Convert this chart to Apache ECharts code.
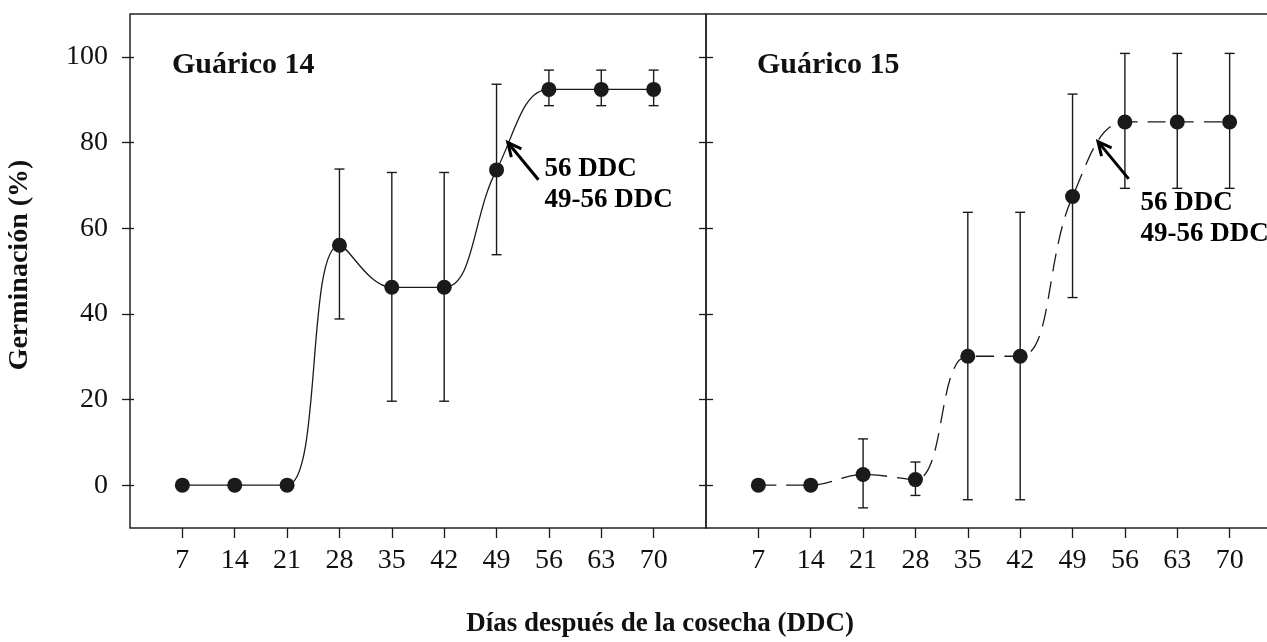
<!DOCTYPE html>
<html>
<head>
<meta charset="utf-8">
<script src="https://cdn.jsdelivr.net/npm/echarts@6/dist/echarts.min.js"></script>
<style>
  html, body { margin: 0; padding: 0; background: #fff; }
  #chart { width: 1267px; height: 642px; }
</style>
</head>
<body>
<div id="chart"></div>
<script>
// days after harvest (DDC)
var days = [7, 14, 21, 28, 35, 42, 49, 56, 63, 70];
var xTicks = [7, 14, 21, 28, 35, 42, 49, 56, 63, 70];
var yTicks = [0, 20, 40, 60, 80, 100];

// Guárico 14 - germination (%) and error bar ends
var g14Mean = [0, 0, 0, 56, 46.2, 46.2, 73.6, 92.4, 92.4, 92.4];
var g14Low  = [null, null, null, 38.8, 19.6, 19.6, 53.8, 88.6, 88.6, 88.6];
var g14High = [null, null, null, 73.8, 73.0, 73.0, 93.6, 96.9, 96.9, 96.9];

// Guárico 15
var g15Mean = [0, 0, 2.5, 1.3, 30.1, 30.1, 67.4, 84.8, 84.8, 84.8];
var g15Low  = [null, null, -5.3, -2.4, -3.4, -3.4, 43.8, 69.3, 69.3, 69.3];
var g15High = [null, null, 10.8, 5.4, 63.7, 63.7, 91.3, 100.8, 100.8, 100.8];

var panelTitles = ['Guárico 14', 'Guárico 15'];
var noteText = ['56 DDC', '49-56 DDC'];
// arrows: tail x, tail y, tip x, tip y (data units)
var g14Arrow = [54.6, 71.3, 50.5, 80.0];
var g15Arrow = [56.5, 71.5, 52.4, 80.2];
// note text anchor (left / middle of the block)
var g14Note = [55.4, 70.3];
var g15Note = [58.1, 62.3];

var serif = '"Liberation Serif", "Times New Roman", serif';
var ink = '#1a1a1a';

function pairs(xs, ys) {
  return xs.map(function (x, i) { return [x, ys[i]]; });
}
function errData(xs, lo, hi) {
  var out = [];
  xs.forEach(function (x, i) {
    if (lo[i] != null) out.push([x, lo[i], hi[i]]);
  });
  return out;
}

function renderErr(params, api) {
  var x = api.value(0);
  var lo = api.coord([x, api.value(1)]);
  var hi = api.coord([x, api.value(2)]);
  var w = 5;
  var st = { stroke: ink, lineWidth: 1.4 };
  return {
    type: 'group',
    children: [
      { type: 'line', shape: { x1: lo[0], y1: lo[1], x2: hi[0], y2: hi[1] }, style: st },
      { type: 'line', shape: { x1: lo[0] - w, y1: lo[1], x2: lo[0] + w, y2: lo[1] }, style: st },
      { type: 'line', shape: { x1: hi[0] - w, y1: hi[1], x2: hi[0] + w, y2: hi[1] }, style: st }
    ]
  };
}

function renderArrow(params, api) {
  var a = api.coord([api.value(0), api.value(1)]);
  var b = api.coord([api.value(2), api.value(3)]);
  var ang = Math.atan2(b[1] - a[1], b[0] - a[0]);
  var len = 15, spread = 0.45;
  var st = { stroke: '#000', lineWidth: 3, lineCap: 'butt' };
  var p1 = [b[0] - len * Math.cos(ang - spread), b[1] - len * Math.sin(ang - spread)];
  var p2 = [b[0] - len * Math.cos(ang + spread), b[1] - len * Math.sin(ang + spread)];
  return {
    type: 'group',
    children: [
      { type: 'line', shape: { x1: a[0], y1: a[1], x2: b[0], y2: b[1] }, style: st },
      { type: 'polyline', shape: { points: [p1, b, p2] }, style: { stroke: '#000', lineWidth: 3, fill: null } }
    ]
  };
}

function renderNote(params, api) {
  var p = api.coord([api.value(0), api.value(1)]);
  return {
    type: 'text',
    x: p[0], y: p[1],
    style: {
      text: noteText.join('\n'),
      font: 'bold 27px ' + serif,
      lineHeight: 31,
      fill: '#000',
      align: 'left',
      verticalAlign: 'middle'
    }
  };
}

function xAxisFor(i) {
  return {
    gridIndex: i, type: 'value', min: 0, max: 77,
    axisLine: { show: false, onZero: false },
    splitLine: { show: false },
    axisTick: { show: true, length: 10, lineStyle: { color: ink, width: 1.3 }, customValues: xTicks },
    axisLabel: { show: true, customValues: xTicks, margin: 19, color: '#111', fontSize: 28, fontFamily: serif }
  };
}
function yAxisFor(i, pos, tickLen, inside, labels) {
  return {
    gridIndex: i, type: 'value', min: -10, max: 110, position: pos,
    axisLine: { show: false, onZero: false },
    splitLine: { show: false },
    axisTick: { show: true, inside: inside, length: tickLen, lineStyle: { color: ink, width: 1.3 }, customValues: yTicks },
    axisLabel: labels
      ? { show: true, customValues: yTicks, margin: 22, color: '#111', fontSize: 28, fontFamily: serif }
      : { show: false }
  };
}

var chart = echarts.init(document.getElementById('chart'));
var option = {
  animation: false,
  backgroundColor: '#fff',
  title: [
    { text: panelTitles[0], left: 172, top: 50, padding: 0, textStyle: { fontSize: 30, fontWeight: 'bold', fontFamily: serif, color: '#111' } },
    { text: panelTitles[1], left: 757, top: 50, padding: 0, textStyle: { fontSize: 30, fontWeight: 'bold', fontFamily: serif, color: '#111' } }
  ],
  grid: [
    { left: 130, top: 14, width: 576, height: 514, show: true, borderColor: '#222', borderWidth: 1.5, backgroundColor: 'transparent', outerBoundsMode: 'none' },
    { left: 706, top: 14, width: 576, height: 514, show: true, borderColor: '#222', borderWidth: 1.5, backgroundColor: 'transparent', outerBoundsMode: 'none' }
  ],
  xAxis: [xAxisFor(0), xAxisFor(1)],
  yAxis: [
    yAxisFor(0, 'left', 8, false, true),
    yAxisFor(0, 'left', 4, true, false),
    yAxisFor(0, 'right', 7, false, false),
    yAxisFor(1, 'left', 7, false, false)
  ],
  graphic: [
    {
      type: 'text', x: 20, y: 265, rotation: Math.PI / 2,
      style: { text: 'Germinación (%)', font: 'bold 28px ' + serif, fill: '#111', align: 'center', verticalAlign: 'middle' }
    },
    {
      type: 'text', x: 660, y: 624,
      style: { text: 'Días después de la cosecha (DDC)', font: 'bold 27px ' + serif, fill: '#111', align: 'center', verticalAlign: 'middle' }
    }
  ],
  series: [
    { type: 'custom', xAxisIndex: 0, yAxisIndex: 0, renderItem: renderErr, data: errData(days, g14Low, g14High), z: 2 },
    {
      type: 'line', xAxisIndex: 0, yAxisIndex: 0, data: pairs(days, g14Mean),
      smooth: 0.4, symbol: 'circle', symbolSize: 15, z: 3,
      lineStyle: { color: ink, width: 1.3 },
      itemStyle: { color: ink }
    },
    { type: 'custom', xAxisIndex: 0, yAxisIndex: 0, renderItem: renderArrow, data: [g14Arrow], z: 4 },
    { type: 'custom', xAxisIndex: 0, yAxisIndex: 0, renderItem: renderNote, data: [g14Note], z: 4 },

    { type: 'custom', xAxisIndex: 1, yAxisIndex: 3, renderItem: renderErr, data: errData(days, g15Low, g15High), z: 2 },
    {
      type: 'line', xAxisIndex: 1, yAxisIndex: 3, data: pairs(days, g15Mean),
      smooth: 0.4, symbol: 'circle', symbolSize: 15, z: 3,
      lineStyle: { color: ink, width: 1.3, type: [18, 10] },
      itemStyle: { color: ink }
    },
    { type: 'custom', xAxisIndex: 1, yAxisIndex: 3, renderItem: renderArrow, data: [g15Arrow], z: 4 },
    { type: 'custom', xAxisIndex: 1, yAxisIndex: 3, renderItem: renderNote, data: [g15Note], z: 4 }
  ]
};
chart.setOption(option);
</script>
</body>
</html>
